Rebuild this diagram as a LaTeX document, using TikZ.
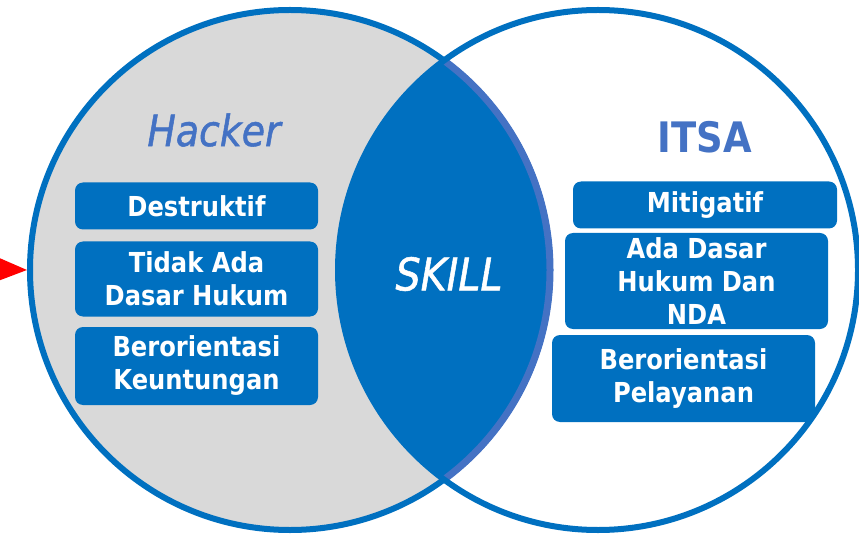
\documentclass[tikz,border=0pt]{standalone}
\usepackage{fontspec}
\setmainfont[FakeStretch=0.88]{DejaVu Sans}
\usepackage{tikz}
\usetikzlibrary{arrows.meta}
\definecolor{ringx}{HTML}{0070C0}
\definecolor{titlex}{HTML}{4472C4}
\definecolor{greyx}{HTML}{D9D9D9}
\tikzset{
  ring/.style={circle,draw=ringx,line width=6pt,minimum size=520pt,inner sep=0pt},
  trait/.style={fill=ringx,rounded corners=8pt,text=white,align=center,inner sep=0pt,
    font=\bfseries\fontsize{27.5}{33}\selectfont},
  ttl/.style={text=titlex},
  pt/.style={-{Triangle[length=40pt,width=32pt]},red,line width=2pt}
}
\begin{document}
\begin{tikzpicture}[x=1pt,y=-1pt]
\useasboundingbox (0,0) rectangle (859,537);
% the two sets
\node[ring,fill=greyx] (hck) at (290,270) {};
\begin{scope}
  \clip (hck.center) circle (260);
  \fill[ringx] (598,270) circle (260);
\end{scope}
\begin{scope}
  \clip (598,270) circle (260);
  \draw[titlex,line width=7pt] (hck.center) circle (260);
\end{scope}
\node[ring] (its) at (598,270) {};
% titles
\node[ttl,font=\itshape\addfontfeatures{FakeBold=1.2}\fontsize{43}{48}\selectfont] (thck) at (214,130) {Hacker};
\node[ttl,font=\bfseries\fontsize{42}{48}\selectfont] (tits) at (705,137) {ITSA};
\node[text=white,font=\itshape\addfontfeatures{FakeBold=1.2}\fontsize{45}{50}\selectfont] (skill) at (449,274) {SKILL};
% hacker traits
\node[trait,minimum width=243pt,minimum height=47pt] (h1) at (196.5,206) {Destruktif};
\node[trait,minimum width=243pt,minimum height=75pt] (h2) at (196.5,279) {Tidak Ada\\Dasar Hukum};
\node[trait,minimum width=243pt,minimum height=78pt] (h3) at (196.5,366) {Berorientasi\\Keuntungan};
% itsa traits
\node[trait,minimum width=264pt,minimum height=47pt] (i1) at (705,205) {Mitigatif};
\node[trait,minimum width=263pt,minimum height=96pt] (i2) at (696.5,281) {Ada Dasar\\Hukum Dan\\NDA};
\node[trait,minimum width=263pt,minimum height=87pt] (i3) at (683.5,378.5) {Berorientasi\\Pelayanan};
% pointer
\coordinate (src) at (-14,269);
\draw[pt] (src) -- (hck.west);
\end{tikzpicture}
\end{document}
